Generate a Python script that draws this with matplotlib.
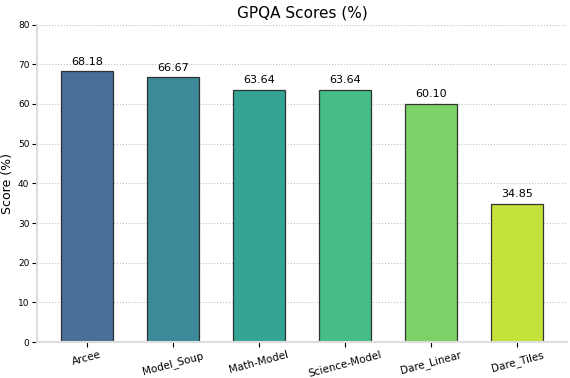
import matplotlib
matplotlib.use("Agg")
import matplotlib.pyplot as plt
import numpy as np

models = ["Arcee", "Model_Soup", "Math-Model", "Science-Model", "Dare_Linear", "Dare_Tiles"]
scores = [68.18, 66.67, 63.64, 63.64, 60.10, 34.85]

colors = plt.cm.viridis(np.linspace(0.3, 0.9, len(models)))

fig, ax = plt.subplots(figsize=(5.7, 3.78), dpi=100)
bars = ax.bar(models, scores, width=0.6, color=colors, alpha=0.9,
              edgecolor="#222222", linewidth=0.9)

for b, s in zip(bars, scores):
    ax.text(b.get_x() + b.get_width() / 2, s + 1.2, f"{s:.2f}",
            ha="center", va="bottom", fontsize=8)

ax.set_title("GPQA Scores (%)", fontsize=11, pad=5)
ax.set_ylabel("Score (%)", fontsize=9, labelpad=3)
ax.set_ylim(0, 80)
ax.tick_params(axis="y", labelsize=6.5, pad=2)
ax.tick_params(axis="x", labelsize=7.5, pad=2)
plt.setp(ax.get_xticklabels(), rotation=15)
ax.yaxis.grid(True, linestyle=":", color="#c0c0c0", linewidth=0.8)
ax.set_axisbelow(True)
for side in ["top", "right"]:
    ax.spines[side].set_visible(False)
for side in ["left", "bottom"]:
    ax.spines[side].set_color("#dddddd")
    ax.spines[side].set_linewidth(1.5)

plt.subplots_adjust(left=0.065, right=0.995, top=0.935, bottom=0.095)
fig.savefig("out.png")
